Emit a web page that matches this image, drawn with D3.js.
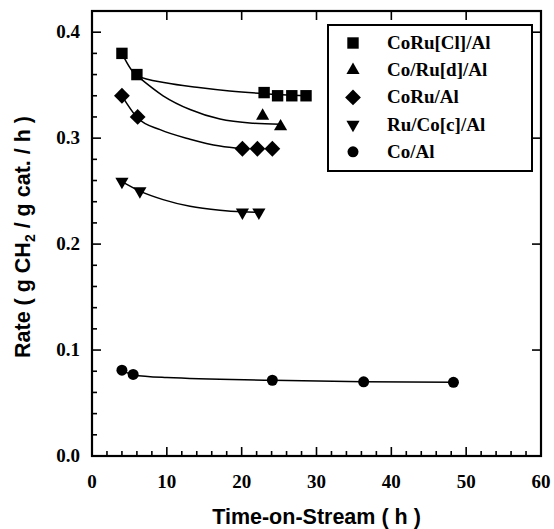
<!DOCTYPE html>
<html><head><meta charset="utf-8">
<script src="https://cdn.jsdelivr.net/npm/d3@7"></script>
<style>body{margin:0;background:#fff}</style>
</head><body>
<svg id="c" width="554" height="529"></svg>
<script>
const seriesNames = ["CoRu[Cl]/Al", "Co/Ru[d]/Al", "CoRu/Al", "Ru/Co[c]/Al", "Co/Al"];
const symbols = ["square", "triangle", "diamond", "triangleDown", "circle"];
const coruCl = [[4,0.380],[6,0.360],[23,0.343],[24.8,0.340],[26.7,0.340],[28.6,0.340]];
const coRuD = [[22.8,0.321],[25.2,0.311]];
const coru = [[4,0.340],[6.1,0.320],[20.1,0.290],[22.1,0.290],[24.1,0.290]];
const ruCoC = [[4,0.259],[6.4,0.250],[20.1,0.230],[22.3,0.230]];
const coAl = [[4,0.081],[5.5,0.077],[24.1,0.0715],[36.3,0.070],[48.3,0.0695]];
// fitted curves
const fitCoruCl = [[4,0.380],[6,0.359],[10,0.352],[14,0.348],[18.4,0.3445],[23,0.342],[28.6,0.340]];
const fitCoRuD = [[6,0.359],[9.5,0.340],[13.1,0.327],[17.1,0.318],[21.6,0.314],[25.2,0.313]];
const fitCoru = [[4,0.340],[6.1,0.319],[9.1,0.308],[13.1,0.299],[17.1,0.2925],[20.1,0.290]];
const fitRuCoC = [[4,0.259],[6.4,0.250],[9.5,0.242],[13.1,0.2357],[17.1,0.232],[20.1,0.2305],[22.3,0.230]];
const fitCoAl = [[4,0.081],[5.5,0.0765],[10,0.074],[24.1,0.0715],[36.3,0.070],[48.3,0.0695]];
const xTicks = [0,10,20,30,40,50,60];
const yTicks = [0.0,0.1,0.2,0.3,0.4];

const data = [coruCl, coRuD, coru, ruCoC, coAl];
const fits = [fitCoruCl, fitCoRuD, fitCoru, fitRuCoC, fitCoAl];

const svg = d3.select("#c");
const L=92, R=541, T=11, B=456;
const x = d3.scaleLinear().domain([0,60]).range([L,R]);
const y = d3.scaleLinear().domain([0,0.42]).range([B,T]);

// axes frame
const g = svg.append("g");
const xMinor = d3.range(0,61,2);
const yMinor = d3.range(0,0.421,0.02);
g.selectAll(".xm").data(xMinor).enter().append("line")
  .attr("x1",d=>x(d)).attr("x2",d=>x(d)).attr("y1",B).attr("y2",d=>B-(d%10===0?9:5))
  .attr("stroke","#000").attr("stroke-width",1.6);
g.selectAll(".xt").data(xTicks).enter().append("line")
  .attr("x1",d=>x(d)).attr("x2",d=>x(d)).attr("y1",T).attr("y2",T+9)
  .attr("stroke","#000").attr("stroke-width",1.6);
g.selectAll(".ym").data(yMinor).enter().append("line")
  .attr("y1",d=>y(d)).attr("y2",d=>y(d)).attr("x1",L).attr("x2",(d,i)=>L+(i%5===0?9:5))
  .attr("stroke","#000").attr("stroke-width",1.6);
g.selectAll(".yt").data(yTicks).enter().append("line")
  .attr("y1",d=>y(d)).attr("y2",d=>y(d)).attr("x1",R).attr("x2",R-9)
  .attr("stroke","#000").attr("stroke-width",1.6);
g.append("rect").attr("x",L).attr("y",T).attr("width",R-L).attr("height",B-T)
  .attr("fill","none").attr("stroke","#000").attr("stroke-width",2.2);

// tick labels
const tf = "'Liberation Serif','Times New Roman',serif";
g.selectAll(".xl").data(xTicks).enter().append("text")
  .attr("x",d=>x(d)).attr("y",B+32).attr("text-anchor","middle")
  .attr("font-family",tf).attr("font-weight","bold").attr("font-size",19)
  .text(d=>d);
g.selectAll(".yl").data(yTicks).enter().append("text")
  .attr("x",L-12).attr("y",d=>y(d)+6).attr("text-anchor","end")
  .attr("font-family",tf).attr("font-weight","bold").attr("font-size",19)
  .text(d=>d.toFixed(1));

// axis titles
const sf = "'Liberation Sans',Arial,sans-serif";
svg.append("text").attr("x",(L+R)/2).attr("y",524).attr("text-anchor","middle")
  .attr("font-family",sf).attr("font-weight","bold").attr("font-size",21.5)
  .text("Time-on-Stream ( h )");
const yt = svg.append("text").attr("transform","translate(30,237) rotate(-90)")
  .attr("text-anchor","middle").attr("font-family",sf).attr("font-weight","bold").attr("font-size",21.5);
yt.append("tspan").text("Rate ( g CH");
yt.append("tspan").attr("font-size",14).attr("dy",5).text("2");
yt.append("tspan").attr("dy",-5).text(" / g cat. / h )");

// curves
const line = d3.line().x(d=>x(d[0])).y(d=>y(d[1])).curve(d3.curveMonotoneX);
fits.forEach(f=>{
  svg.append("path").attr("d",line(f)).attr("fill","none").attr("stroke","#000").attr("stroke-width",1.5);
});

// symbols
const symMap = {
  square: d3.symbol().type(d3.symbolSquare).size(130),
  triangle: d3.symbol().type(d3.symbolTriangle).size(75),
  diamond: d3.symbol().type(d3.symbolSquare).size(125),
  triangleDown: d3.symbol().type(d3.symbolTriangle).size(75),
  circle: d3.symbol().type(d3.symbolCircle).size(95)
};
function place(sel, type, cx, cy){
  const rot = type==="triangleDown" ? " rotate(180)" : type==="diamond" ? " rotate(45)" : "";
  sel.attr("d",symMap[type]())
    .attr("transform",`translate(${cx},${cy})`+rot)
    .attr("fill","#000");
}
data.forEach((s,i)=>{
  svg.selectAll(null).data(s).enter().append("path")
    .each(function(d){ place(d3.select(this), symbols[i], x(d[0]), y(d[1])); });
});

// legend
const lg = svg.append("g");
lg.append("rect").attr("x",328).attr("y",25).attr("width",204).attr("height",146)
  .attr("fill","#fff").attr("stroke","#000").attr("stroke-width",2);
seriesNames.forEach((n,i)=>{
  const cy = 43 + i*27.2;
  const p = lg.append("path");
  place(p, symbols[i], 353, cy);
  lg.append("text").attr("x",387).attr("y",cy+6).attr("font-family",tf)
    .attr("font-weight","bold").attr("font-size",19).text(n);
});
</script>
</body></html>
